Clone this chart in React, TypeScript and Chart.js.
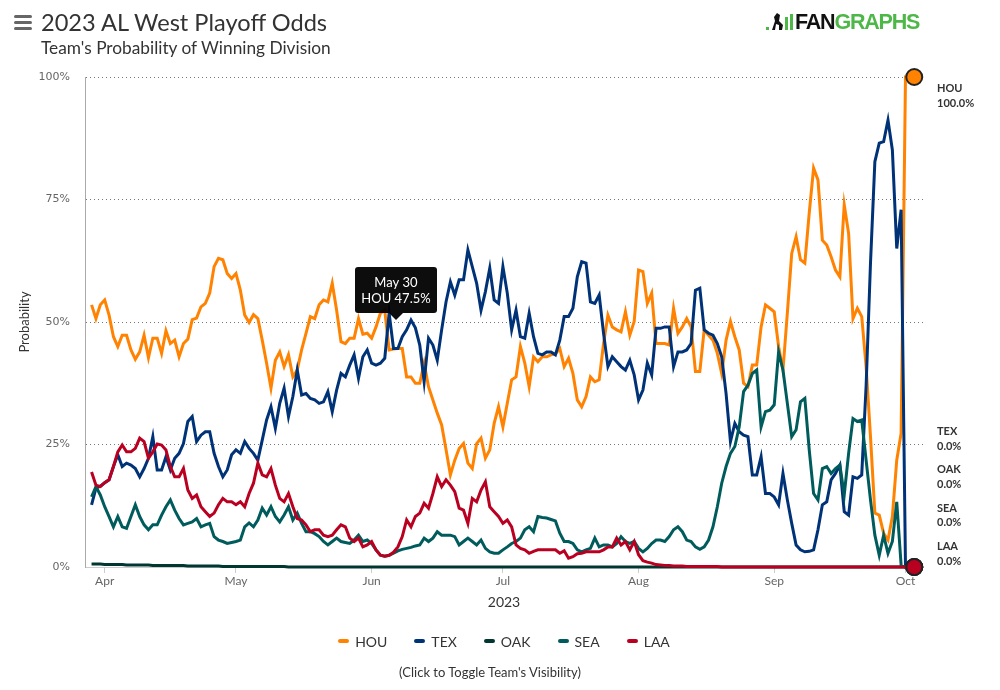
import React, { useEffect, useRef } from "react";
import { Chart, registerables } from "chart.js";

Chart.register(...registerables);

// Day index: 2 = Apr 1, 32 = May 1 ... 185 = Oct 1 (one value per day, starting at START_DAY)
const START_DAY = -1;
const MONTH_DAYS = [2, 32, 63, 93, 124, 155, 185];
const MONTH_LABELS = ["Apr", "May", "Jun", "Jul", "Aug", "Sep", "Oct"];

const TEAMS = ["HOU", "TEX", "OAK", "SEA", "LAA"];
const COLORS = ["#FF8200", "#003278", "#003831", "#005C5C", "#BA0021"];

const HOU = [
  53.5, 50.7, 53.5, 54.5, 51.4, 47, 45, 47.3, 47.3, 44.3,
  42.4, 43.9, 47.3, 42.7, 46.7, 46.7, 43.6, 48.2, 45.6, 46.3,
  42.9, 45.6, 46.5, 50.5, 50.8, 53.1, 53.8, 55.9, 61.3, 63,
  62.7, 59.9, 58.9, 59.9, 56.5, 51.4, 49.9, 51.5, 50.7, 46.3,
  41.6, 36.5, 42.2, 43.9, 40.9, 43.3, 38.8, 40.2, 44.3, 47.7,
  51.1, 50.7, 53.5, 54.5, 54.1, 57.9, 52.4, 46, 45.6, 46.7,
  46.7, 50.7, 47.5, 47.7, 46.7, 49, 51.8, 52.4, 44.3, 44.5,
  44.6, 44.6, 38.8, 38.8, 37.5, 37.5, 41.6, 36.8, 34.1, 31.4,
  29, 24, 18.8, 21.8, 24.2, 25.2, 21.2, 20.1, 25.2, 26.3,
  22.2, 23.9, 29.3, 32.7, 28.6, 33.4, 38.2, 38.8, 45, 41.6,
  36.8, 42.9, 41.9, 42.9, 42.9, 43.3, 43.5, 44.6, 40.9, 42.6,
  39.5, 34.1, 32.7, 34.8, 38.8, 37.8, 38.2, 45.6, 51.4, 49,
  48.4, 48, 52.1, 47.3, 50.1, 60.6, 60.3, 53.8, 55.9, 45.6,
  45.6, 45.6, 45.3, 52.8, 47.7, 49, 50.7, 49, 39.9, 39.9,
  48.4, 47.3, 46.3, 43.6, 39.5, 46.3, 50.1, 47, 44.3, 37.5,
  36.8, 41.2, 41.2, 49, 53.5, 52.8, 52.1, 45, 40.2, 51.8,
  64, 67.4, 62.7, 62, 72.2, 81.4, 79, 66.7, 65.7, 63.3,
  60.6, 59.2, 73.9, 68.1, 50.7, 52.8, 51.1, 40.9, 26.6, 11,
  10.6, 6.9, 5.5, 10.3, 21.8, 27.3, 100, 100, 100,
];

const TEX = [
  12.7, 16.1, 16.5, 17.2, 17.8, 20.5, 22.9, 20.5, 21.2, 20.8,
  20.1, 18.4, 20.1, 22.2, 26.6, 19.8, 19.8, 22.5, 19.8, 22.2,
  23.2, 25.2, 29.7, 30.7, 25.6, 26.9, 27.6, 27.6, 23.2, 20.5,
  18.4, 19.8, 22.9, 23.9, 23.2, 25.6, 24.2, 23.2, 21.8, 25.9,
  30, 32.7, 28.3, 33.4, 36.5, 30.7, 34.8, 40.2, 35.1, 35.4,
  34.4, 34.1, 33.4, 33.7, 35.8, 31.7, 36.1, 39.5, 38.8, 41.2,
  43.3, 38.5, 42.9, 44.3, 41.6, 41.2, 41.6, 42.6, 51.8, 44.6,
  44.6, 47, 48.4, 50.4, 48.8, 45.3, 37.8, 46.7, 45.3, 42.2,
  48.4, 54.1, 58.2, 55.5, 58.6, 58.6, 64.7, 61.3, 57.9, 52.4,
  56.2, 61, 54.5, 53.8, 61.3, 55.9, 48.4, 52.4, 47, 46.7,
  51.8, 47, 43.6, 43.3, 43.9, 43.9, 43.3, 46.3, 51.1, 51.1,
  52.8, 59.2, 62.3, 62, 54.1, 53.8, 55.5, 47.7, 40.9, 42.9,
  41.9, 40.9, 40.2, 42.2, 39.2, 34.1, 36.1, 41.6, 39.2, 48.7,
  48.7, 49, 49, 40.9, 43.9, 43.9, 44.3, 45.6, 56.5, 56.9,
  48.4, 47.7, 47.3, 45.6, 42.9, 35.4, 25.6, 29.3, 27.6, 26.9,
  26.6, 18.8, 18.8, 22.5, 15, 15, 14.3, 12.7, 19.1, 13.7,
  8.9, 4.5, 3.5, 3.1, 3.2, 3.5, 7.6, 12.7, 13.3, 17.8,
  19.1, 20.8, 11.3, 10.6, 18.4, 18.1, 18.8, 37, 62, 82.7,
  86.5, 86.8, 91.2, 85.1, 65, 72.9, 0, 0, 0,
];

const OAK = [
  0.6, 0.6, 0.6, 0.5, 0.5, 0.5, 0.5, 0.5, 0.4, 0.4,
  0.4, 0.4, 0.4, 0.4, 0.3, 0.3, 0.3, 0.3, 0.3, 0.3,
  0.3, 0.3, 0.2, 0.2, 0.2, 0.2, 0.2, 0.2, 0.2, 0.2,
  0.1, 0.1, 0.1, 0.1, 0.1, 0.1, 0.1, 0.1, 0.1, 0.1,
  0.1, 0.1, 0.1, 0.1, 0.1, 0, 0, 0, 0, 0,
  0, 0, 0, 0, 0, 0, 0, 0, 0, 0,
  0, 0, 0, 0, 0, 0, 0, 0, 0, 0,
  0, 0, 0, 0, 0, 0, 0, 0, 0, 0,
  0, 0, 0, 0, 0, 0, 0, 0, 0, 0,
  0, 0, 0, 0, 0, 0, 0, 0, 0, 0,
  0, 0, 0, 0, 0, 0, 0, 0, 0, 0,
  0, 0, 0, 0, 0, 0, 0, 0, 0, 0,
  0, 0, 0, 0, 0, 0, 0, 0, 0, 0,
  0, 0, 0, 0, 0, 0, 0, 0, 0, 0,
  0, 0, 0, 0, 0, 0, 0, 0, 0, 0,
  0, 0, 0, 0, 0, 0, 0, 0, 0, 0,
  0, 0, 0, 0, 0, 0, 0, 0, 0, 0,
  0, 0, 0, 0, 0, 0, 0, 0, 0, 0,
  0, 0, 0, 0, 0, 0, 0, 0, 0,
];

const SEA = [
  14.3, 16.4, 14.7, 12.3, 10.3, 8.2, 10.3, 8.2, 7.9, 10.3,
  12.7, 10.3, 8.6, 7.6, 8.6, 8.6, 10.6, 12.3, 13.7, 11.6,
  9.9, 8.6, 8.9, 9.2, 9.9, 8.2, 8.6, 8.9, 6.2, 5.5,
  5.2, 4.8, 5.0, 5.2, 5.5, 8.2, 9.0, 8.2, 9.6, 12,
  10.6, 12.3, 10.3, 9.2, 10.6, 12.3, 9.6, 11, 8.9, 7.2,
  7.2, 6.8, 6.2, 5.2, 4.5, 5.2, 5.9, 5.2, 5.0, 4.8,
  5.5, 6.5, 5.2, 5.5, 4.8, 3.5, 2.4, 2.2, 2.4, 2.8,
  3.3, 3.6, 3.8, 4, 4.3, 4.5, 5.9, 5.2, 5.9, 7.2,
  6.5, 6.5, 6.5, 6.2, 4.5, 5.2, 5.9, 5.2, 4.5, 5.5,
  3.8, 3.1, 2.8, 2.8, 3.5, 4.1, 4.8, 5.2, 5.9, 7.6,
  8.2, 7.2, 10.3, 10.1, 10, 9.7, 9.4, 6.9, 5.2, 5.2,
  4.8, 3.5, 3.1, 3.5, 3.8, 5.9, 4.1, 4.5, 4.5, 4.1,
  4.8, 6.2, 5.2, 4.8, 5.2, 3.8, 3.1, 3.8, 4.8, 5.5,
  5.5, 5.2, 6.2, 7.6, 8.2, 7.2, 5.5, 5.2, 4.1, 3.6,
  4.1, 5.5, 8.2, 12.3, 17.1, 20.5, 23.2, 24.6, 28.6, 35.8,
  37.1, 39.5, 40.2, 28.6, 31.7, 32, 33.1, 43.9, 40.2, 33.4,
  26.6, 28, 33.7, 34.4, 23.9, 15, 13.7, 20.1, 20.5, 19.1,
  20.1, 20.8, 14.7, 23.2, 30.3, 29.7, 30, 21.8, 13.7, 6.5,
  2.4, 6.5, 2.8, 5.2, 13.3, 0.4, 0, 0, 0,
];

const LAA = [
  19.4, 16.7, 16.4, 17.2, 17.8, 20.5, 23.5, 24.9, 23.5, 23.5,
  24.2, 26.3, 25.6, 22.2, 23.5, 25.1, 24.9, 23.9, 20.5, 18.4,
  18.4, 20.1, 15.7, 14, 14.7, 12.3, 11.3, 10.3, 11, 12.7,
  14, 13.3, 13.3, 12.7, 13.3, 12.3, 15, 17.1, 21.2, 18.8,
  18.4, 20.1, 16.7, 14, 13.3, 15, 12.3, 9.9, 9.6, 8.6,
  7.2, 7.6, 7.6, 6.5, 6.2, 6.5, 7.6, 8.6, 8.2, 5.9,
  5.2, 5.9, 4.1, 4.5, 5.2, 3.5, 2.4, 2.2, 2.4, 3.0,
  4.1, 6.2, 9.6, 8.2, 10.3, 11, 13, 12, 15, 18.4,
  16.4, 17.8, 16.7, 15.4, 12, 11.6, 8.9, 14, 13.3, 15.7,
  17.4, 12.3, 11.3, 10.3, 8.9, 9.6, 8.2, 4.5, 3.8, 3.5,
  2.8, 3.2, 3.5, 3.5, 3.5, 3.5, 3.5, 2.8, 3.3, 1.8,
  2.1, 2.7, 2.8, 3.1, 3.1, 3.1, 3.1, 3.5, 4.1, 4.1,
  5.9, 4.5, 5.2, 3.5, 5.2, 2.5, 1.3, 1.0, 0.8, 0.5,
  0.4, 0.3, 0.3, 0.2, 0.2, 0.2, 0.1, 0.1, 0.1, 0.1,
  0.1, 0.1, 0.1, 0.1, 0, 0, 0, 0, 0, 0,
  0, 0, 0, 0, 0, 0, 0, 0, 0, 0,
  0, 0, 0, 0, 0, 0, 0, 0, 0, 0,
  0, 0, 0, 0, 0, 0, 0, 0, 0, 0,
  0, 0, 0, 0, 0, 0, 0, 0, 0,
];

const SERIES = [HOU, TEX, OAK, SEA, LAA];

const TOOLTIP_DATE = "May 30";
const TOOLTIP_DAY = 61;

const FONT = "Lato, 'Noto Sans', sans-serif";

const tipPlugin = {
  id: "staticTip",
  afterDatasetsDraw(chart: any) {
    const { ctx, chartArea } = chart;
    const tipX = chartArea.left + 311;
    const tipY = chartArea.top + 243;
    const w = 82;
    const h = 46;
    const bx = tipX - 41;
    const by = tipY - 7 - h;
    const val = HOU[TOOLTIP_DAY - START_DAY];
    ctx.save();
    ctx.fillStyle = "rgba(0,0,0,0.95)";
    ctx.beginPath();
    ctx.roundRect(bx, by, w, h, 3);
    ctx.fill();
    ctx.beginPath();
    ctx.moveTo(tipX - 7, by + h);
    ctx.lineTo(tipX, tipY);
    ctx.lineTo(tipX + 7, by + h);
    ctx.closePath();
    ctx.fill();
    ctx.fillStyle = "#fff";
    ctx.font = "13px " + FONT;
    ctx.textAlign = "center";
    ctx.textBaseline = "middle";
    ctx.fillText(TOOLTIP_DATE, tipX, by + 16);
    ctx.fillText(`HOU ${val.toFixed(1)}%`, tipX, by + 32);
    ctx.restore();
  },
};

function ChartCanvas() {
  const ref = useRef<HTMLCanvasElement | null>(null);
  useEffect(() => {
    if (!ref.current) return;
    const datasets = TEAMS.map((team, k) => {
      const vals = SERIES[k];
      const n = vals.length;
      return {
        label: team,
        data: vals.map((v, i) => ({ x: START_DAY + i, y: v })),
        borderColor: COLORS[k],
        backgroundColor: COLORS[k],
        borderWidth: 3,
        tension: 0,
        order: TEAMS.length - 1 - k,
        pointRadius: (c: any) => (c.dataIndex === n - 1 ? 8 : 0),
        pointHoverRadius: 0,
        pointBackgroundColor: COLORS[k],
        pointBorderColor: "#222",
        pointBorderWidth: 2,
        clip: false as any,
      };
    });
    const chart = new Chart(ref.current, {
      type: "line",
      data: { datasets },
      plugins: [tipPlugin],
      options: {
        animation: false,
        responsive: false,
        events: [],
        layout: { padding: { left: 0, right: 77, top: 77, bottom: 73 } },
        plugins: {
          legend: { display: false },
          tooltip: { enabled: false },
        },
        scales: {
          x: {
            type: "linear",
            min: -2.5,
            max: 189,
            afterFit: (s: any) => {
              s.height = 50;
            },
            afterBuildTicks: (s: any) => {
              s.ticks = MONTH_DAYS.map((v) => ({ value: v }));
            },
            ticks: {
              autoSkip: false,
              maxRotation: 0,
              padding: 1,
              color: "#666",
              font: { family: FONT, size: 12 },
              callback: (_v: any, i: number) => MONTH_LABELS[i],
            },
            grid: {
              drawOnChartArea: false,
              drawTicks: true,
              tickLength: 6,
              tickColor: "#ccc",
              tickWidth: 1,
            },
            border: { display: true, color: "#ccc", width: 1 },
            title: {
              display: true,
              text: "2023",
              color: "#333",
              font: { family: FONT, size: 14 },
              padding: { top: 0, bottom: 6 },
            },
          },
          y: {
            min: 0,
            max: 100,
            afterFit: (s: any) => {
              s.width = 85;
            },
            ticks: {
              stepSize: 25,
              padding: 15,
              color: "#666",
              font: { family: "'DejaVu Sans', sans-serif", size: 11 },
              callback: (v: any) => `${v}%`,
            },
            grid: { drawTicks: false, color: "#777", lineWidth: 1 },
            border: { display: true, color: "#aaa", width: 1, dash: [1, 3] },
            title: {
              display: true,
              text: "Probability",
              color: "#333",
              font: { family: FONT, size: 13 },
              padding: { top: 17, bottom: 0 },
            },
          },
        },
      } as any,
    });
    return () => chart.destroy();
  }, []);
  return (
    <canvas
      ref={ref}
      width={1000}
      height={690}
      style={{ position: "absolute", left: 0, top: 0, width: 1000, height: 690 }}
    />
  );
}

function Logo() {
  return (
    <div style={{ position: "absolute", left: 765, top: 10, height: 24 }}>
      <svg width={30} height={22} style={{ position: "absolute", left: 0, top: 2 }}>
        <rect x={1} y={15} width={3} height={3} fill="#4DB848" />
        <polygon points="7,18 10,9 9,5 12,1 15,3 14,9 18,13 17,18 14,18 14,13 11,12 10,18" fill="#111" />
        <rect x={20} y={5} width={3} height={13} fill="#4DB848" />
        <rect x={25} y={2} width={3} height={16} fill="#4DB848" />
      </svg>
      <div
        style={{
          position: "absolute",
          left: 30,
          top: 0,
          fontFamily: "'Liberation Sans', Arial, sans-serif",
          fontWeight: 700,
          fontSize: 21.5,
          letterSpacing: -1.2,
          whiteSpace: "nowrap",
          lineHeight: "24px",
        }}
      >
        <span style={{ color: "#111" }}>FAN</span>
        <span style={{ color: "#4DB848" }}>GRAPHS</span>
      </div>
    </div>
  );
}

export default function App() {
  const lastLabels = TEAMS.map((t, k) => {
    const vals = SERIES[k];
    return { team: t, text: `${vals[vals.length - 1].toFixed(1)}%` };
  });
  return (
    <div
      style={{
        position: "absolute",
        left: 0,
        top: 0,
        width: 1000,
        height: 690,
        background: "#fff",
        fontFamily: FONT,
        color: "#333",
        overflow: "hidden",
      }}
    >
      <ChartCanvas />
      {/* hamburger */}
      <div style={{ position: "absolute", left: 14, top: 15, width: 18, height: 15 }}>
        {[0, 6, 12].map((t) => (
          <div
            key={t}
            style={{ position: "absolute", left: 0, top: t, width: 18, height: 3, borderRadius: 1.5, background: "#666" }}
          />
        ))}
      </div>
      <div style={{ position: "absolute", left: 41, top: 8, fontSize: 23.6, lineHeight: "28px", color: "#333", whiteSpace: "nowrap" }}>
        2023 AL West Playoff Odds
      </div>
      <div style={{ position: "absolute", left: 41, top: 38, fontSize: 17.3, lineHeight: "20px", color: "#333", whiteSpace: "nowrap" }}>
        Team's Probability of Winning Division
      </div>
      <Logo />
      {/* end labels */}
      {lastLabels.map((l, k) => (
        <div
          key={l.team}
          style={{
            position: "absolute",
            left: 937,
            top: k === 0 ? 81 : 424 + (k - 1) * 38.3,
            fontSize: 11,
            fontWeight: 700,
            lineHeight: "14.7px",
            color: "#333",
          }}
        >
          <div>{l.team}</div>
          <div>{l.text}</div>
        </div>
      ))}
      {/* legend */}
      <div
        style={{
          position: "absolute",
          left: 4,
          width: 1000,
          top: 632,
          height: 18,
          display: "flex",
          justifyContent: "center",
          alignItems: "center",
          gap: 27,
          fontSize: 14,
          color: "#333",
        }}
      >
        {TEAMS.map((t, k) => (
          <div key={t} style={{ display: "flex", alignItems: "center", gap: 6 }}>
            <div style={{ width: 11, height: 4, borderRadius: 2, background: COLORS[k] }} />
            <span>{t}</span>
          </div>
        ))}
      </div>
      <div
        style={{
          position: "absolute",
          left: 0,
          width: 980,
          top: 664,
          textAlign: "center",
          fontSize: 13,
          lineHeight: "16px",
          color: "#333",
        }}
      >
        (Click to Toggle Team's Visibility)
      </div>
    </div>
  );
}
